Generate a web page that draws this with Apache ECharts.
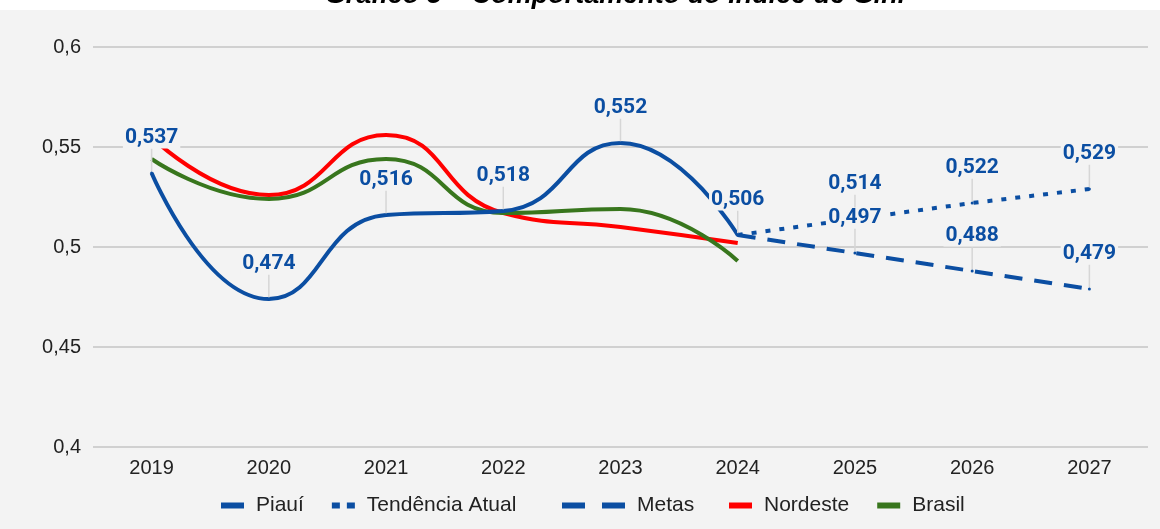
<!DOCTYPE html>
<html>
<head>
<meta charset="utf-8">
<script src="https://cdn.jsdelivr.net/npm/echarts@6/dist/echarts.min.js"></script>
<style>
  html, body { margin: 0; padding: 0; background: #ffffff; }
  #main { width: 1160px; height: 529px; }
</style>
</head>
<body>
<div id="main"></div>
<script>
var anos = ['2019', '2020', '2021', '2022', '2023', '2024', '2025', '2026', '2027'];
var piaui = [0.537, 0.474, 0.516, 0.518, 0.552, 0.506, null, null, null];
var tendencia = [null, null, null, null, null, 0.506, 0.514, 0.522, 0.529];
var metas = [null, null, null, null, null, 0.506, 0.497, 0.488, 0.479];
var nordeste = [0.555, 0.526, 0.556, 0.517, 0.510, 0.502, null, null, null];
var brasil = [0.544, 0.524, 0.544, 0.517, 0.519, 0.493, null, null, null];
var yTicks = [0.4, 0.45, 0.5, 0.55, 0.6];

var azul = '#0b4ea2';
var fonte = '"Liberation Sans", Arial, sans-serif';

function virgula(v) {
    return String(v).replace('.', ',');
}

// labels only where the reference shows them (2024 is labelled by Piauí)
function comRotulo(arr, pular) {
    return arr.map(function (v, i) {
        if (v === null) return null;
        return { value: v, label: { show: i !== pular } };
    });
}

var rotulo = {
    show: true,
    position: 'top',
    distance: 6,
    color: azul,
    fontSize: 21,
    fontWeight: 'bold',
    fontFamily: 'Roboto, sans-serif',
    backgroundColor: '#f3f3f3',
    padding: [0, 2],
    formatter: function (p) { return virgula(p.value); }
};
var guia = { show: true, lineStyle: { color: '#d6d6d6', width: 1.5 } };

var legendaBase = {
    bottom: 8,
    itemHeight: 6,
    itemGap: 28,
    textStyle: { fontSize: 21, color: '#222', fontFamily: fonte, padding: [0, 0, 0, 7] }
};

var myChart = echarts.init(document.getElementById('main'));
var option = {
    backgroundColor: '#ffffff',
    animation: false,
    graphic: [
        {
            type: 'rect',
            z: -10,
            shape: { x: 0, y: 10, width: 1160, height: 519 },
            style: { fill: '#f3f3f3' }
        },
        {
            type: 'text',
            z: 100,
            x: 615,
            y: 9,
            style: {
                text: 'Gráfico 5 – Comportamento do Índice de Gini',
                font: 'italic bold 27px "Liberation Sans", Arial, sans-serif',
                fill: '#000',
                align: 'center',
                verticalAlign: 'bottom'
            }
        }
    ],
    grid: { left: 93, right: 12, top: 47, bottom: 82 },
    legend: [
        Object.assign({}, legendaBase, {
            left: 216,
            itemWidth: 23,
            data: [
                { name: 'Piauí', icon: 'rect' },
                { name: 'Tendência Atual', icon: 'path://M0,0H8V6H0ZM15,0H23V6H15Z' }
            ]
        }),
        Object.assign({}, legendaBase, {
            left: 557,
            itemWidth: 63,
            data: [{ name: 'Metas', icon: 'path://M0,0H23V6H0ZM40,0H63V6H40Z' }]
        }),
        Object.assign({}, legendaBase, {
            left: 724,
            itemWidth: 23,
            data: [
                { name: 'Nordeste', icon: 'rect' },
                { name: 'Brasil', icon: 'rect' }
            ]
        })
    ],
    xAxis: {
        type: 'category',
        data: anos,
        axisLine: { show: false },
        axisTick: { show: false },
        axisLabel: { fontSize: 20, color: '#222', margin: 11, fontFamily: fonte }
    },
    yAxis: {
        type: 'value',
        min: yTicks[0],
        max: yTicks[yTicks.length - 1],
        interval: 0.05,
        axisLabel: {
            fontSize: 20,
            color: '#222',
            margin: 12,
            fontFamily: fonte,
            formatter: function (v) { return virgula(Number(v.toFixed(2))); }
        },
        splitLine: { lineStyle: { color: '#c4c4c4', width: 1.5 } }
    },
    series: [
        {
            name: 'Nordeste',
            type: 'line',
            smooth: 0.5,
            symbol: 'none',
            data: nordeste,
            lineStyle: { color: '#ff0000', width: 4 },
            itemStyle: { color: '#ff0000' },
            z: 2
        },
        {
            name: 'Brasil',
            type: 'line',
            smooth: 0.5,
            symbol: 'none',
            data: brasil,
            lineStyle: { color: '#38761d', width: 4 },
            itemStyle: { color: '#38761d' },
            z: 3
        },
        {
            name: 'Piauí',
            type: 'line',
            smooth: 0.5,
            symbol: 'circle',
            symbolSize: 3,
            showSymbol: true,
            data: comRotulo(piaui, -1),
            lineStyle: { color: azul, width: 4 },
            itemStyle: { color: azul },
            label: rotulo,
            labelLayout: { dy: -17 },
            labelLine: guia,
            z: 4
        },
        {
            name: 'Tendência Atual',
            type: 'line',
            symbol: 'circle',
            symbolSize: 3,
            showSymbol: true,
            data: comRotulo(tendencia, 5),
            lineStyle: { color: azul, width: 4, type: [5, 9] },
            itemStyle: { color: azul },
            label: rotulo,
            labelLayout: { dy: -17 },
            labelLine: guia,
            z: 4
        },
        {
            name: 'Metas',
            type: 'line',
            symbol: 'circle',
            symbolSize: 3,
            showSymbol: true,
            data: comRotulo(metas, 5),
            lineStyle: { color: azul, width: 4, type: [18, 12] },
            itemStyle: { color: azul },
            label: rotulo,
            labelLayout: { dy: -17 },
            labelLine: guia,
            z: 4
        }
    ]
};
myChart.setOption(option);
</script>
</body>
</html>
